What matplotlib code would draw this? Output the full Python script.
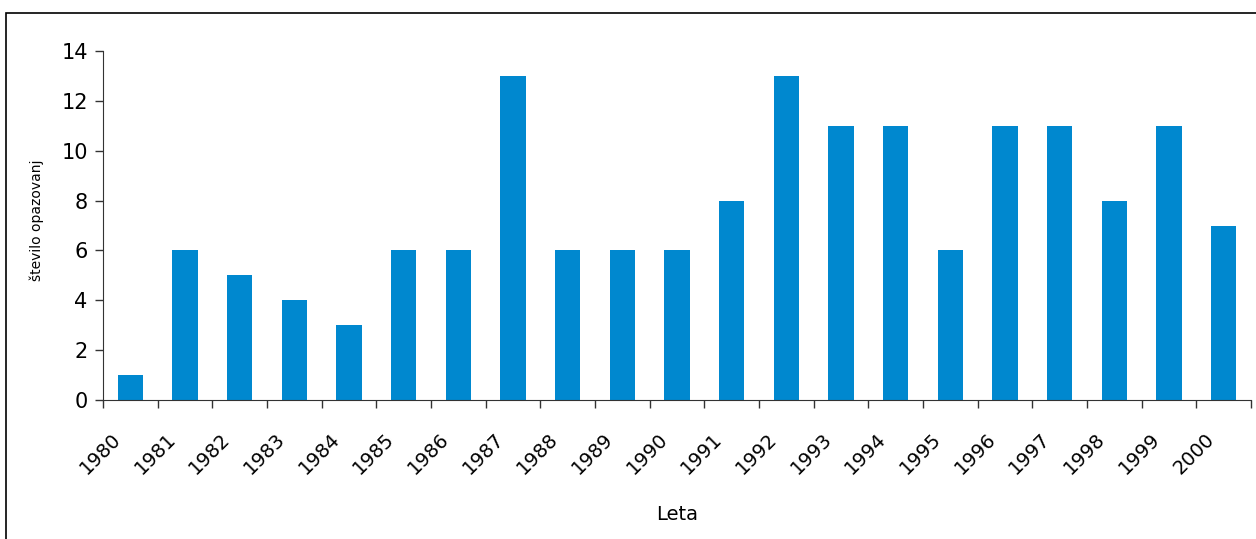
import matplotlib
matplotlib.use("Agg")
import matplotlib.pyplot as plt
from matplotlib.patches import Rectangle
import numpy as np

years = [str(y) for y in range(1980, 2001)]
counts = [1, 6, 5, 4, 3, 6, 6, 13, 6, 6, 6, 8, 13, 11, 11, 6, 11, 11, 8, 11, 7]
y_ticks = [0, 2, 4, 6, 8, 10, 12, 14]

W, H = 1256, 539
fig = plt.figure(figsize=(W / 100, H / 100), dpi=100)
plt.rcParams['font.family'] = ['DejaVu Sans']

# outer frame (open at right and bottom edges)
fig.patches.append(Rectangle((6 / W, -0.05), 1.2, 1 - 13 / H + 0.05,
                             transform=fig.transFigure, fill=False,
                             edgecolor='black', linewidth=1.2))

ax = fig.add_axes([103 / W, 1 - 400 / H, (1251 - 103) / W, (400 - 51) / H])
x = np.arange(len(years))
ax.bar(x, counts, width=0.46, color='#0088CF', zorder=2)

ax.set_xlim(-0.5, len(years) - 0.5)
ax.set_ylim(0, 14)
ax.set_yticks(y_ticks)
ax.set_yticklabels([str(t) for t in y_ticks], fontsize=15)
ax.tick_params(axis='y', length=6, width=1, direction='out', pad=5, color='#333333')

# ticks at category boundaries, labels at category centres
ax.set_xticks(np.arange(-0.5, len(years) + 0.5, 1))
ax.set_xticklabels([])
ax.tick_params(axis='x', length=6, width=1, direction='out', color='#333333')
for xi, lab in zip(x, years):
    ax.annotate(lab, xy=(xi, 0), xycoords=('data', 'axes fraction'),
                xytext=(-9, -26), textcoords='offset points',
                rotation=45, rotation_mode='anchor', ha='right', va='center',
                fontsize=14)

for side in ('top', 'right'):
    ax.spines[side].set_visible(False)
ax.spines['left'].set_color('#333333')
ax.spines['bottom'].set_color('#333333')

fig.text(37 / W, 1 - 220 / H, 'število opazovanj', rotation=90,
         ha='center', va='center', fontsize=10)
fig.text(677 / W, 1 - 515 / H, 'Leta', ha='center', va='center', fontsize=14)

fig.savefig('out.png', dpi=100)
